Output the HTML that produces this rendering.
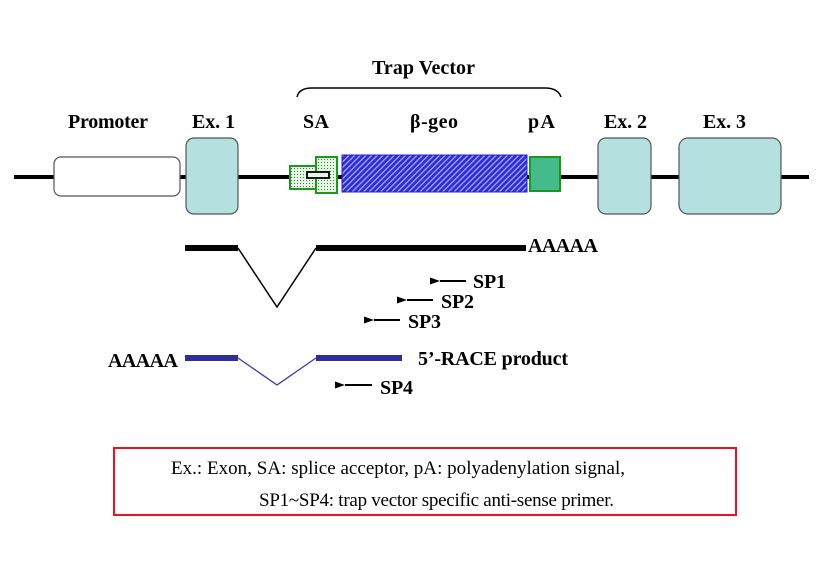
<!DOCTYPE html>
<html><head><meta charset="utf-8"><style>
html,body{margin:0;padding:0;background:#fff;}
svg{display:block;}
.b{font-family:"Liberation Serif",serif;font-weight:bold;font-size:20px;fill:#000;}
.r{font-family:"Liberation Serif",serif;font-size:19px;fill:#000;}
</style></head><body>
<svg width="830" height="563" viewBox="0 0 830 563" xmlns="http://www.w3.org/2000/svg">
<defs>
<pattern id="hatch" width="4" height="4" patternUnits="userSpaceOnUse" patternTransform="rotate(45)">
<rect width="4" height="4" fill="#2b2bd8"/>
<rect width="1.3" height="4" fill="#a8a8ff"/>
</pattern>
<pattern id="dots" width="3" height="3" patternUnits="userSpaceOnUse">
<rect width="3" height="3" fill="#e6f5e6"/>
<rect width="1" height="1" fill="#2a8a2a"/>
</pattern>
<marker id="ah" markerWidth="10" markerHeight="7" refX="0" refY="3.5" orient="auto" markerUnits="userSpaceOnUse">
<path d="M10,0 L0,3.5 L10,7 Z" fill="#000"/>
</marker>
</defs>
<text class="b" x="372" y="74" textLength="103">Trap Vector</text>
<path d="M297,97 Q299,88 312,88 L545,88 Q558,88 561,97" fill="none" stroke="#000" stroke-width="1.5"/>
<text class="b" x="68" y="128" textLength="80">Promoter</text>
<text class="b" x="192" y="128" textLength="43">Ex. 1</text>
<text class="b" x="303" y="128" textLength="26">SA</text>
<text class="b" x="410" y="128" textLength="48">β-geo</text>
<text class="b" x="528" y="128" textLength="27">pA</text>
<text class="b" x="604" y="128" textLength="43">Ex. 2</text>
<text class="b" x="703" y="128" textLength="43">Ex. 3</text>
<line x1="14" y1="177" x2="809" y2="177" stroke="#000" stroke-width="4"/>
<rect x="54" y="157" width="126" height="39" rx="7" fill="#fff" stroke="#555" stroke-width="1.2"/>
<rect x="186" y="138" width="52" height="76" rx="8" fill="#b4e0e0" stroke="#555" stroke-width="1.2"/>
<rect x="598" y="138" width="53" height="76" rx="8" fill="#b4e0e0" stroke="#555" stroke-width="1.2"/>
<rect x="679" y="138" width="102" height="76" rx="9" fill="#b4e0e0" stroke="#555" stroke-width="1.2"/>
<rect x="290" y="166" width="27" height="23" fill="url(#dots)" stroke="#1a9a1a" stroke-width="2"/>
<rect x="316" y="157" width="21" height="36" fill="url(#dots)" stroke="#1a9a1a" stroke-width="2"/>
<rect x="307" y="172" width="22" height="6" fill="#e6f5e6" stroke="#000" stroke-width="1.8"/>
<rect x="342" y="155" width="185" height="37" fill="url(#hatch)" stroke="#2020d0" stroke-width="1"/>
<rect x="530" y="157" width="30" height="34" fill="#44bb88" stroke="#1a9a1a" stroke-width="2"/>
<rect x="185" y="245" width="53" height="6" fill="#000"/>
<rect x="316" y="245" width="210" height="6" fill="#000"/>
<polyline points="238,248 277,307 316,248" fill="none" stroke="#000" stroke-width="1.5"/>
<text class="b" x="528" y="252" textLength="70">AAAAA</text>
<line x1="466" y1="281" x2="440" y2="281" stroke="#000" stroke-width="2" marker-end="url(#ah)"/>
<text class="b" x="473" y="288" textLength="33">SP1</text>
<line x1="433" y1="300" x2="407" y2="300" stroke="#000" stroke-width="2" marker-end="url(#ah)"/>
<text class="b" x="441" y="308" textLength="33">SP2</text>
<line x1="400" y1="320" x2="374" y2="320" stroke="#000" stroke-width="2" marker-end="url(#ah)"/>
<text class="b" x="408" y="328" textLength="33">SP3</text>
<rect x="185" y="355" width="53" height="6" fill="#2e2e99"/>
<rect x="316" y="355" width="86" height="6" fill="#2e2e99"/>
<polyline points="238,358 277,385 316,358" fill="none" stroke="#3a3aaa" stroke-width="1.3"/>
<text class="b" x="108" y="367" textLength="70">AAAAA</text>
<text class="b" x="418" y="365" textLength="150">5’-RACE product</text>
<line x1="372" y1="385" x2="345" y2="385" stroke="#000" stroke-width="2" marker-end="url(#ah)"/>
<text class="b" x="380" y="394" textLength="33">SP4</text>
<rect x="114" y="448" width="622" height="67" fill="#fff" stroke="#e8141e" stroke-width="2"/>
<text class="r" x="171" y="474" textLength="454">Ex.: Exon, SA: splice acceptor, pA: polyadenylation signal,</text>
<text class="r" x="259" y="506" textLength="355">SP1~SP4: trap vector specific anti-sense primer.</text>
</svg>
</body></html>
